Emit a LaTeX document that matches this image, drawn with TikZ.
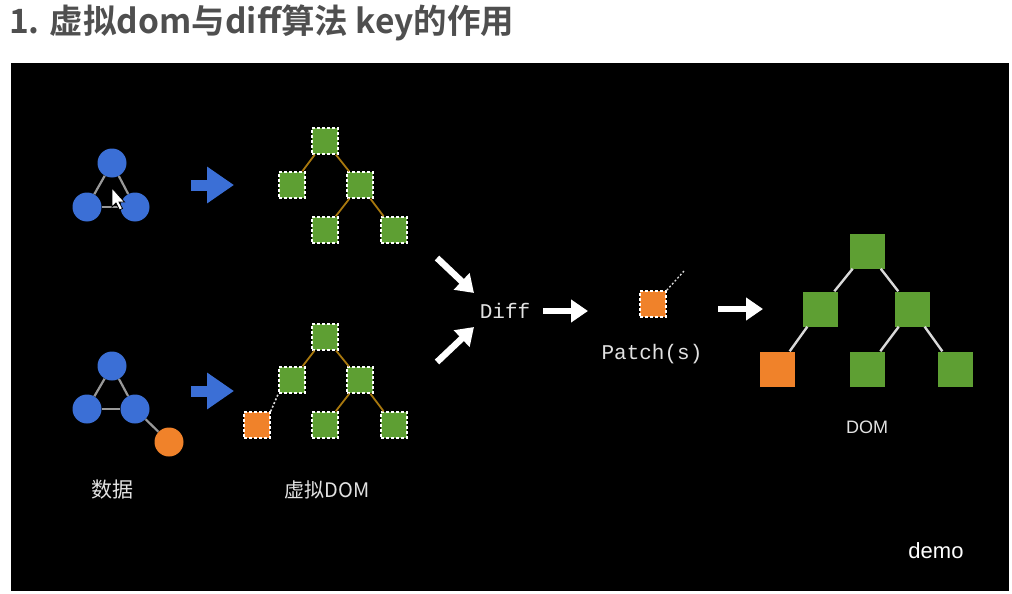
\documentclass[tikz,border=0pt]{standalone}
\usepackage{fontspec}
\setmainfont{Liberation Sans}
\newfontfamily\cjk{Noto Sans CJK SC}
\newfontfamily\cjkbold{Noto Sans CJK SC Bold}
\newfontfamily\monof{Liberation Mono}
\usetikzlibrary{arrows.meta}
\definecolor{bluec}{HTML}{3B6FD6}
\definecolor{greenc}{HTML}{5E9F33}
\definecolor{orangec}{HTML}{F0822A}
\definecolor{brownc}{HTML}{A8780E}
\definecolor{titlec}{HTML}{4F4F4F}
\definecolor{labc}{HTML}{E2E2E2}
\tikzset{
  circ/.style={circle,fill=bluec,minimum size=29pt,inner sep=0pt},
  ocirc/.style={circle,fill=orangec,minimum size=29pt,inner sep=0pt},
  vbox/.style={rectangle,fill=greenc,draw=white,dashed,dash pattern=on 3pt off 2pt,line width=1.4pt,minimum size=26pt,inner sep=0pt},
  vobox/.style={vbox,fill=orangec},
  dbox/.style={rectangle,fill=greenc,minimum size=35pt,inner sep=0pt},
  dobox/.style={dbox,fill=orangec},
  gedge/.style={draw=gray!80,line width=2.2pt},
  bedge/.style={draw=brownc,line width=1.8pt},
  wedge/.style={draw=white!85!black,line width=2.4pt},
  dotedge/.style={draw=white!85!black,line width=1.6pt,dash pattern=on 2pt off 2pt},
  bluearrow/.style={draw=bluec,line width=11pt,-{Triangle[length=27pt,width=35pt]}},
  whitearrow/.style={draw=white,line width=6.5pt,-{Triangle[length=17pt,width=22pt]}},
  lab/.style={text=labc,inner sep=0pt},
}
\begin{document}
\begin{tikzpicture}[x=1pt,y=-1pt]
\useasboundingbox (0,0) rectangle (1012,594);
\fill[white] (0,0) rectangle (1012,594);
\node[anchor=west,text=titlec,font=\cjkbold\fontsize{33.5}{35}\selectfont,inner sep=0pt] (title) at (9,23) {1. 虚拟dom与diff算法 key的作用};
\fill[black] (11,63) rectangle (1009,591);

% ---------- top data triangle
\node[circ] (a1) at (112,163) {};
\node[circ] (a2) at (87,207) {};
\node[circ] (a3) at (135,207) {};
\draw[gedge] (a1) -- (a2);
\draw[gedge] (a1) -- (a3);
\draw[gedge] (a2) -- (a3);
% cursor
\coordinate (cur) at (112,188);
\fill[white,draw=black,line width=0.8pt] (cur) -- ++(0,19) -- ++(4,-4) -- ++(3.5,7) -- ++(3,-1.5) -- ++(-3.5,-6.5) -- ++(5.5,0) -- cycle;

% top blue arrow
\coordinate (ba1s) at (191,185);
\coordinate (ba1e) at (234,185);
\draw[bluearrow] (ba1s) -- (ba1e);

% ---------- top virtual tree
\node[vbox] (t1) at (325,141) {};
\node[vbox] (t2) at (292,185) {};
\node[vbox] (t3) at (360,185) {};
\node[vbox] (t4) at (325,230) {};
\node[vbox] (t5) at (394,230) {};
\draw[bedge] (t1) -- (t2);
\draw[bedge] (t1) -- (t3);
\draw[bedge] (t3) -- (t4);
\draw[bedge] (t3) -- (t5);

% ---------- bottom data triangle
\node[circ] (b1) at (112,366) {};
\node[circ] (b2) at (87,409) {};
\node[circ] (b3) at (135,409) {};
\node[ocirc] (b4) at (169,442) {};
\draw[gedge] (b1) -- (b2);
\draw[gedge] (b1) -- (b3);
\draw[gedge] (b2) -- (b3);
\draw[gedge] (b3) -- (b4);

% bottom blue arrow
\coordinate (ba2s) at (191,391);
\coordinate (ba2e) at (234,391);
\draw[bluearrow] (ba2s) -- (ba2e);

% ---------- bottom virtual tree
\node[vbox] (u1) at (325,337) {};
\node[vbox] (u2) at (292,380) {};
\node[vbox] (u3) at (360,380) {};
\node[vobox] (u6) at (257,425) {};
\node[vbox] (u4) at (325,425) {};
\node[vbox] (u5) at (394,425) {};
\draw[bedge] (u1) -- (u2);
\draw[bedge] (u1) -- (u3);
\draw[bedge] (u3) -- (u4);
\draw[bedge] (u3) -- (u5);
\draw[dotedge] (u6.north east) -- (u2.south west);

\node[lab,font=\cjk\fontsize{21}{23}\selectfont] (l1) at (112,490) {数据};
\node[lab,font=\cjk\fontsize{20}{22}\selectfont] (l2) at (327,490) {虚拟DOM};

% ---------- Diff
\node[text=labc,font=\monof\fontsize{21}{23}\selectfont,inner sep=0pt] (diff) at (505,311) {Diff};
\coordinate (w1s) at (437,258);
\coordinate (w1e) at (474,293);
\coordinate (w2s) at (437,362);
\coordinate (w2e) at (474,327);
\draw[whitearrow] (w1s) -- (w1e);
\draw[whitearrow] (w2s) -- (w2e);
\coordinate (w3s) at (543,311);
\coordinate (w3e) at (588,311);
\draw[whitearrow] (w3s) -- (w3e);

% ---------- Patch
\node[vobox] (p1) at (653,304) {};
\coordinate (pd) at (684,271);
\draw[dotedge,line width=1.3pt] (p1.north east) -- (pd);
\node[text=labc,font=\monof\fontsize{21}{23}\selectfont,inner sep=0pt] (patch) at (652,354) {Patch(s)};
\coordinate (w4s) at (718,309);
\coordinate (w4e) at (763,309);
\draw[whitearrow] (w4s) -- (w4e);

% ---------- DOM
\node[dbox] (d1) at (867,251) {};
\node[dbox] (d2) at (820,309) {};
\node[dbox] (d3) at (912,309) {};
\node[dobox] (d4) at (777,369) {};
\node[dbox] (d5) at (867,369) {};
\node[dbox] (d6) at (955,369) {};
\draw[wedge] (d1) -- (d2);
\draw[wedge] (d1) -- (d3);
\draw[wedge] (d2) -- (d4);
\draw[wedge] (d3) -- (d5);
\draw[wedge] (d3) -- (d6);
\node[lab,font=\fontsize{18}{20}\selectfont] (dom) at (867,427) {DOM};

\node[text=white,font=\fontsize{22}{24}\selectfont,inner sep=0pt] (demo) at (936,551) {demo};
\end{tikzpicture}
\end{document}
